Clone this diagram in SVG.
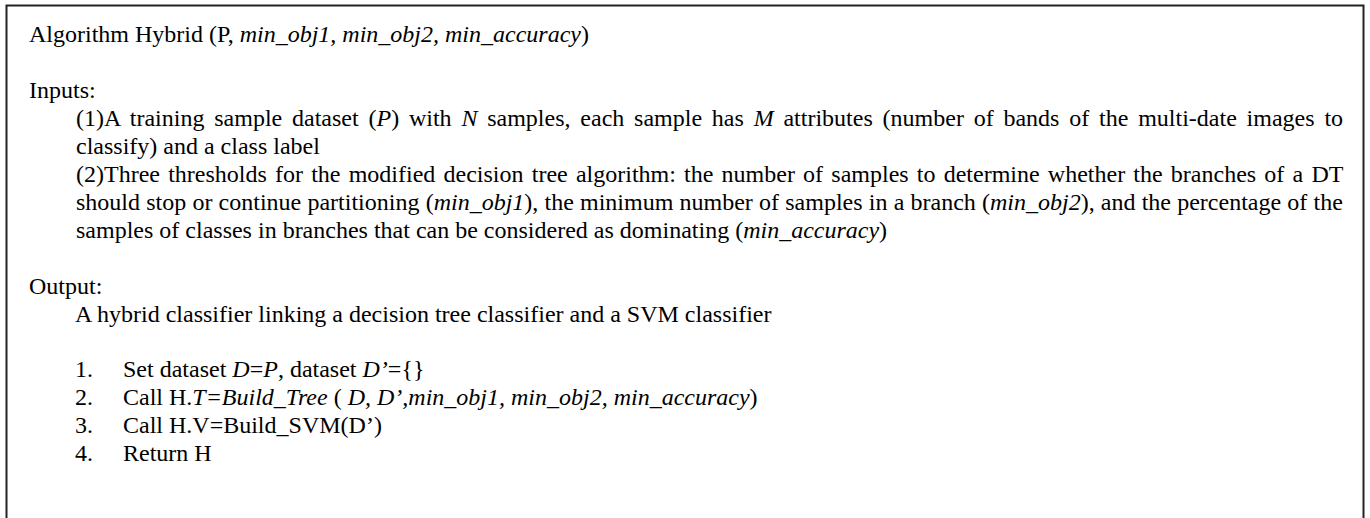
<svg xmlns="http://www.w3.org/2000/svg" width="1370" height="518" viewBox="0 0 1370 518">
  <style>
    text { font-family: "Liberation Serif", "Times New Roman", serif; font-size: 24px; fill: #000; }
    .i { font-style: italic; }
    .frame { fill: #fff; stroke: #222; stroke-width: 2; }
  </style>
  <rect x="0" y="0" width="1370" height="518" fill="#fff"/>
  <g id="frame">
    <rect class="frame" x="6.5" y="5.5" width="1357" height="530"/>
  </g>
  <g id="header">
    <text x="29" y="42">Algorithm Hybrid (P, <tspan class="i">min_obj1, min_obj2, min_accuracy</tspan>)</text>
  </g>
  <g id="inputs">
    <text x="29" y="98">Inputs:</text>
    <text x="76" y="126" word-spacing="3.8">(1)A training sample dataset (<tspan class="i">P</tspan>) with <tspan class="i">N</tspan> samples, each sample has <tspan class="i">M</tspan> attributes (number of bands of the multi-date images to</text>
    <text x="76" y="154">classify) and a class label</text>
    <text x="76" y="182" word-spacing="2.2">(2)Three thresholds for the modified decision tree algorithm: the number of samples to determine whether the branches of a DT</text>
    <text x="76" y="210" word-spacing="0.2">should stop or continue partitioning (<tspan class="i">min_obj1</tspan>), the minimum number of samples in a branch (<tspan class="i">min_obj2</tspan>), and the percentage of the</text>
    <text x="76" y="238">samples of classes in branches that can be considered as dominating (<tspan class="i">min_accuracy</tspan>)</text>
  </g>
  <g id="output">
    <text x="29" y="294">Output:</text>
    <text x="75" y="322">A hybrid classifier linking a decision tree classifier and a SVM classifier</text>
  </g>
  <g id="steps">
    <text x="75" y="377">1.</text>
    <text x="123" y="377">Set dataset <tspan class="i">D</tspan>=<tspan class="i">P</tspan>, dataset <tspan class="i">D’</tspan>={}</text>
    <text x="75" y="405">2.</text>
    <text x="123" y="405">Call H.<tspan class="i">T=Build_Tree</tspan> ( <tspan class="i">D, D’,min_obj1, min_obj2, min_accuracy</tspan>)</text>
    <text x="75" y="433">3.</text>
    <text x="123" y="433">Call H.V=Build_SVM(D’)</text>
    <text x="75" y="461">4.</text>
    <text x="123" y="461">Return H</text>
  </g>
</svg>
